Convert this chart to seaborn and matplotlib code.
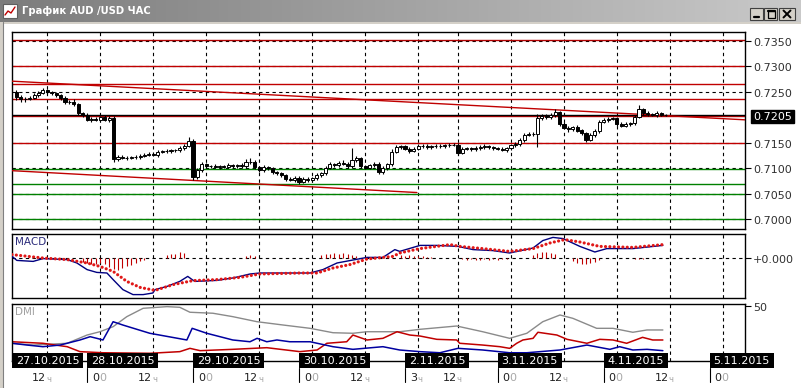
import numpy as np
import matplotlib
matplotlib.use("Agg")
import matplotlib.pyplot as plt
import matplotlib.transforms as mtransforms
from matplotlib.patches import Rectangle
from matplotlib.colors import LinearSegmentedColormap
import seaborn as sns

sns.set_style("white")
plt.rcParams['font.family'] = ['DejaVu Sans']

# ---------------- data (hourly AUD/USD) ----------------
first_open = 0.7250
closes = [
    0.7240, 0.7235, 0.7236, 0.7238, 0.7244, 0.7248, 0.7253, 0.7249, 0.7247, 0.7243,
    0.7237, 0.7230, 0.7231, 0.7226, 0.7208, 0.7204, 0.7195, 0.7197, 0.7195, 0.7200,
    0.7195, 0.7199, 0.7118, 0.7122, 0.7120, 0.7120, 0.7121, 0.7122, 0.7124, 0.7126,
    0.7128, 0.7126, 0.7132, 0.7133, 0.7134, 0.7135, 0.7135, 0.7139, 0.7144, 0.7154,
    0.7083, 0.7096, 0.7108, 0.7104, 0.7104, 0.7103, 0.7104, 0.7103, 0.7106, 0.7104,
    0.7106, 0.7104, 0.7112, 0.7113, 0.7102, 0.7096, 0.7102, 0.7100, 0.7092, 0.7090,
    0.7086, 0.7079, 0.7077, 0.7081, 0.7073, 0.7079, 0.7076, 0.7080, 0.7086, 0.7090,
    0.7101, 0.7108, 0.7106, 0.7110, 0.7109, 0.7104, 0.7116, 0.7119, 0.7104, 0.7101,
    0.7106, 0.7109, 0.7092, 0.7100, 0.7108, 0.7132, 0.7141, 0.7143, 0.7138, 0.7134,
    0.7138, 0.7144, 0.7144, 0.7141, 0.7143, 0.7143, 0.7144, 0.7145, 0.7146, 0.7146,
    0.7130, 0.7138, 0.7139, 0.7137, 0.7139, 0.7142, 0.7143, 0.7141, 0.7139, 0.7138,
    0.7136, 0.7139, 0.7145, 0.7148, 0.7155, 0.7166, 0.7167, 0.7168, 0.7198, 0.7203,
    0.7200, 0.7204, 0.7210, 0.7186, 0.7179, 0.7176, 0.7180, 0.7174, 0.7169, 0.7156,
    0.7166, 0.7173, 0.7191, 0.7195, 0.7197, 0.7198, 0.7186, 0.7183, 0.7187, 0.7188,
    0.7201, 0.7216, 0.7209, 0.7206, 0.7205, 0.7208, 0.7205, 0.7205,
]
# wick lengths in pips above / below the candle body
wick_up = [
    4, 3, 3, 4, 3, 4, 5, 3, 3, 3, 3, 4, 3, 4, 3, 3, 4, 3, 4, 3,
    4, 3, 3, 4, 3, 3, 3, 4, 3, 3, 3, 4, 3, 3, 4, 3, 3, 4, 3, 7,
    3, 4, 4, 3, 3, 4, 3, 3, 4, 3, 3, 4, 5, 6, 3, 3, 4, 3, 3, 3,
    3, 3, 4, 3, 3, 4, 3, 3, 4, 3, 4, 5, 3, 4, 6, 4, 24, 4, 3, 3,
    3, 4, 3, 4, 3, 5, 4, 3, 3, 4, 4, 3, 4, 3, 3, 4, 3, 3, 4, 3,
    3, 4, 3, 3, 4, 3, 4, 3, 3, 3, 4, 3, 3, 4, 4, 3, 4, 3, 8, 4,
    3, 4, 6, 3, 4, 3, 3, 4, 3, 3, 4, 3, 4, 3, 4, 3, 3, 4, 3, 3,
    4, 8, 3, 4, 3, 4, 3, 2,
]
wick_dn = [
    6, 4, 4, 3, 3, 4, 3, 3, 4, 3, 4, 3, 4, 3, 3, 4, 3, 4, 3, 3,
    3, 4, 6, 4, 3, 4, 3, 3, 4, 3, 3, 3, 4, 3, 3, 4, 3, 3, 4, 3,
    6, 4, 3, 4, 3, 3, 4, 3, 3, 4, 3, 3, 4, 3, 3, 4, 3, 3, 4, 4,
    4, 4, 3, 4, 4, 3, 4, 3, 3, 4, 3, 3, 4, 3, 3, 4, 3, 3, 4, 3,
    3, 4, 3, 4, 3, 4, 3, 3, 3, 4, 3, 3, 4, 3, 4, 3, 3, 4, 3, 3,
    4, 3, 3, 4, 3, 3, 4, 3, 3, 3, 3, 4, 3, 3, 4, 3, 3, 4, 26, 3,
    4, 3, 3, 4, 3, 4, 3, 3, 4, 4, 3, 4, 3, 3, 4, 3, 4, 3, 3, 4,
    3, 3, 4, 3, 3, 4, 3, 2,
]

price_ticks = [0.7350, 0.7300, 0.7250, 0.7150, 0.7100, 0.7050, 0.7000]
top_level = 0.7352
red_levels = [0.7300, 0.7265, 0.7236, 0.7150, 0.7203]
green_levels = [0.7098, 0.7068, 0.7050, 0.7000]
current_price = 0.7205

trend_upper_x = [-1, 165]
trend_upper_y = [0.7271, 0.7195]
trend_lower_x = [-1, 90.7]
trend_lower_y = [0.7095, 0.7052]

grid_bars = [7, 19, 31, 43, 55, 67, 79, 91, 100, 112, 124, 136, 148, 160]
hour_main = ['12', '0', '12', '0', '12', '0', '12', '3', '12', '0', '12', '0', '12', '0']
hour_suffix = ['ч', '0', 'ч', '0', 'ч', '0', 'ч', 'ч', 'ч', '0', 'ч', '0', 'ч', '0']
date_labels = ['27.10.2015', '28.10.2015', '29.10.2015', '30.10.2015',
               '2.11.2015', '3.11.2015', '4.11.2015', '5.11.2015']
date_start_bars = [-1, 19, 43, 67, 91, 112, 136, 160]

# MACD (values in pips, 1e-4)
macd_idx = [-1, 0.1, 3.8, 6.0, 11.5, 13.7, 16.0, 18.2, 20.5, 21.9, 24.1, 26.4, 28.7, 30.9, 31.4,
            34.1, 37.0, 38.8, 39.8, 40.4, 45.4, 49.0, 52.9, 55.1, 60.4, 66.5, 69.4, 72.6, 75.5,
            79.4, 83.0, 85.7, 86.8, 91.4, 95.2, 100.0, 103.4, 107.9, 111.7, 117.0, 119.2, 121.5,
            123.8, 127.6, 131.0, 133.7, 139.6, 146.4]
macd_val = [0.85, -1.2, -1.7, -0.3, -0.8, -2.5, -5.8, -7.2, -7.5, -10.8, -15.8, -18.3, -18.3, -17.5,
            -15.8, -14.2, -11.7, -9.2, -10.8, -11.7, -11.2, -10, -8, -7.5, -7.5, -7.5, -5.8, -2.5,
            -1.3, 0.3, 0.3, 4.2, 3.3, 6.3, 6.3, 5.8, 4.2, 3.7, 2.5, 5, 8.7, 10.3, 9.7, 5.8, 3,
            4.7, 4.7, 6.3]
signal_idx = [-1, 6.0, 11.5, 16.0, 18.9, 21.9, 25.0, 28.0, 31.4, 35.5, 40.0, 45.4, 50.6, 55.1,
              64.2, 68.1, 71.7, 75.5, 79.4, 85.3, 86.8, 91.4, 98.2, 100.4, 105.6, 111.7, 117.0,
              120.8, 124.2, 127.6, 132.1, 139.6, 146.4]
signal_val = [1.7, 0, -0.8, -2.5, -4.2, -6.7, -11.7, -14.7, -16.2, -13.3, -11.3, -10.8, -9.7, -8,
              -7.5, -7.5, -5, -3.3, -0.5, 0.8, 2.5, 4.7, 6.7, 5.8, 4.7, 3.3, 4.7, 7.5, 9.2, 8,
              5.8, 5.3, 6.7]
hist_idx = [15, 16, 17, 18, 19, 20, 21, 22, 23, 24, 25, 26, 27, 28, 29,
            34, 35, 36, 37, 38, 52, 53, 54,
            69, 70, 71, 72, 73, 74, 75, 76, 77,
            87, 88, 89, 90, 91, 92, 93, 94,
            101, 102, 103, 104, 105, 106, 107, 108, 109, 110, 111,
            117, 118, 119, 120, 121, 122,
            126, 127, 128, 129, 130, 131, 132, 140, 141, 142]
hist_val = [-2, -2.5, -3, -3, -2.5, -3, -4.5, -5.5, -6, -5, -4, -3.5, -2.5, -1.5, -1,
            1.5, 2, 2, 3, 2.5, 1, 1.5, 1,
            1.5, 2, 2, 2.5, 2, 2.5, 2, 1.5, 1,
            1.5, 1, 1.5, 1, 1, 1, 0.5, 0.5,
            -0.5, -1, -0.5, -1, -1, -0.5, -1, -0.5, -1, -0.5, -0.5,
            1.5, 2.5, 3, 3, 2.5, 2,
            -1.5, -2.5, -3, -3, -2.5, -2, -1, -0.5, -0.5, -0.5]

# DMI
adx_idx = [-1, 3.8, 11.5, 16.0, 18.9, 21.9, 25.0, 28.7, 34.1, 37.0, 39.3, 44.5, 49.0, 54.5, 60.4,
           66.5, 71.7, 76.2, 79.4, 86.8, 91.4, 99.7, 105.6, 111.7, 115.6, 119.2, 123.1, 126.0,
           131.4, 135.1, 139.6, 142.8, 146.4]
adx_val = [16.1, 14.5, 16.1, 23.6, 26.6, 31.2, 40.3, 47.9, 49.4, 48.8, 44.3, 43.4, 40.3, 35.7, 32.7,
           29.7, 25.7, 25.2, 26.6, 26.6, 28.8, 31.8, 26.6, 20.6, 25.2, 35.7, 41.8, 38.8, 29.7,
           29.7, 26.1, 28.2, 28.2]
pdi_idx = [-1, 2.4, 6.0, 9.9, 14.4, 16.7, 18.2, 19.6, 21.9, 24.1, 30.2, 38.6, 39.8, 43.1, 49.0,
           52.9, 54.5, 56.7, 59.0, 61.9, 66.5, 71.7, 76.2, 83.0, 86.8, 91.4, 95.9, 100.0, 105.6,
           111.7, 115.6, 123.1, 129.2, 134.4, 136.6, 139.6, 142.8, 146.4]
pdi_val = [16.1, 14.5, 13, 14.5, 19.1, 22.1, 20.6, 19.1, 35.7, 32.7, 25.2, 19.1, 29.7, 25.2, 19.1,
           17.5, 20.6, 17.5, 19.1, 17.5, 17.5, 13, 10.6, 13, 10, 8.5, 7.5, 11.5, 10, 7.5, 7.5,
           10, 14.5, 10.6, 13, 10, 10.6, 9.4]
mdi_idx = [-1, 6.0, 11.5, 14.4, 19.6, 30.2, 37.0, 39.3, 41.6, 49.0, 56.7, 64.2, 68.1, 70.3, 74.8,
           76.2, 79.4, 83.0, 86.2, 89.1, 91.4, 95.2, 99.7, 100.4, 105.6, 109.5, 111.7, 113.3,
           114.7, 117.0, 118.1, 122.4, 124.7, 129.2, 132.1, 135.1, 138.2, 141.8, 144.1, 146.4]
mdi_val = [17.5, 16.1, 13, 8.5, 7.5, 7, 8.5, 11.5, 9.4, 10.6, 12.1, 8.5, 10, 16.1, 17.5, 23.6,
           19.1, 20.6, 26.6, 23.6, 22.7, 19.7, 19.1, 16.1, 14.5, 13, 11.5, 16.1, 19.1, 20.6,
           26.1, 23.6, 19.7, 16.1, 19.7, 19.1, 16.1, 21.5, 19.1, 19.1]

# ---------------- layout helpers ----------------
W, H = 801, 388
XMIN, XMAX = -1, 165
fig = plt.figure(figsize=(W / 100, H / 100), dpi=100, facecolor='#d4d0c8')


def box(x0, y0, x1, y1):
    return [x0 / W, 1 - y1 / H, (x1 - x0) / W, (y1 - y0) / H]


def fy(py):
    return 1 - py / H


# client area and window chrome
bg = fig.add_axes([0, 0, 1, 1])
bg.set_xlim(0, W)
bg.set_ylim(H, 0)
bg.axis('off')
bg.add_patch(Rectangle((4, 24), W - 4, H - 24, fc='white', ec='none'))
bg.plot([3, 3], [22, H], color='#808080', lw=0.8)

ax_t = fig.add_axes(box(0, 0, W, 22))
grad = LinearSegmentedColormap.from_list('title', ['#7c7c7c', '#c9c9c9'])
ax_t.imshow(np.linspace(0, 1, 256).reshape(1, -1), cmap=grad, aspect='auto', extent=[0, W, 22, 0])
ax_t.set_xlim(0, W)
ax_t.set_ylim(22, 0)
ax_t.axis('off')
ax_t.add_patch(Rectangle((3, 4), 14, 14, fc='white', ec='#606060', lw=0.8))
ax_t.plot([5, 8, 11, 15], [15, 11, 13, 7], color='#c00000', lw=1)
ax_t.text(22, 11.5, 'График AUD /USD ЧАС', color='white', fontweight='bold', fontsize=7.2,
          va='center', ha='left')
for x0, w in [(750, 13), (764, 13), (779, 16)]:
    ax_t.add_patch(Rectangle((x0, 8), w, 12, fc='#d4d0c8', ec='#404040', lw=0.8))
ax_t.plot([754, 759], [17, 17], color='black', lw=1.6)
ax_t.add_patch(Rectangle((767.5, 10.5), 7, 7, fill=False, ec='black', lw=0.9))
ax_t.plot([767.5, 774.5], [11, 11], color='black', lw=1.6)
ax_t.plot([783.5, 790.5], [10.5, 17.5], color='black', lw=1.4)
ax_t.plot([783.5, 790.5], [17.5, 10.5], color='black', lw=1.4)

ax_main = fig.add_axes(box(12, 32, 745, 229))
ax_macd = fig.add_axes(box(12, 234, 745, 298))
ax_dmi = fig.add_axes(box(12, 304, 745, 361))

DASH = (0, (3, 3))
LABEL_X = (753 - 12) / (745 - 12)


def right_label(ax, val, text, **kw):
    tr = mtransforms.blended_transform_factory(ax.transAxes, ax.transData)
    tr = tr + mtransforms.ScaledTranslation(0, -2 / 100, fig.dpi_scale_trans)
    ax.text(LABEL_X, val, text, transform=tr, ha='left', va='center', fontsize=8,
            clip_on=False, **kw)


for ax in (ax_main, ax_macd, ax_dmi):
    ax.set_facecolor('white')
    ax.set_xlim(XMIN, XMAX)
    ax.set_xticks([])
    for s in ax.spines.values():
        s.set_visible(True)
        s.set_color('black')
        s.set_linewidth(1)
    for g in grid_bars:
        ax.axvline(g, color='black', ls=DASH, lw=0.8, zorder=1)
    ax.tick_params(axis='y', left=False, right=True, labelleft=False, labelright=False,
                   length=4, width=0.8, color='black', direction='out')

# ---------------- price panel ----------------
ax_main.set_ylim(0.69803, 0.73677)
ax_main.set_yticks(price_ticks)
for p in price_ticks:
    ax_main.axhline(p, color='black', ls=DASH, lw=0.8, zorder=1)
ax_main.axhline(top_level, color='#b00000', lw=1, zorder=2)
for p in red_levels:
    ax_main.axhline(p, color='#c00000', lw=1, zorder=2)
for p in green_levels:
    ax_main.axhline(p, color='#008000', lw=1, zorder=2)
ax_main.axhline(current_price, color='black', lw=1, zorder=3)
ax_main.plot(trend_upper_x, trend_upper_y, color='#c00000', lw=1, zorder=3)
ax_main.plot(trend_lower_x, trend_lower_y, color='#c00000', lw=1, zorder=3)

c = np.array(closes)
o = np.array([first_open] + closes[:-1])
bars = np.arange(len(c))
hi = np.maximum(o, c) + np.array(wick_up) * 1e-4
lo = np.minimum(o, c) - np.array(wick_dn) * 1e-4
ax_main.vlines(bars, lo, hi, color='black', lw=0.8, zorder=4)
body_h = np.maximum(np.abs(c - o), 0.00004)
ax_main.bar(bars, body_h, bottom=np.minimum(o, c), width=0.7,
            color=np.where(c >= o, 'white', 'black'), edgecolor='black', lw=0.7, zorder=5)

for p in price_ticks:
    right_label(ax_main, p, f'{p:.4f}', color='#303030')
tr_p = mtransforms.blended_transform_factory(ax_main.transAxes, ax_main.transData)
tr_p = tr_p + mtransforms.ScaledTranslation(0, -2 / 100, fig.dpi_scale_trans)
ax_main.text(LABEL_X, current_price, f'{current_price:.4f}', transform=tr_p, ha='left',
             va='center', fontsize=8, color='white', clip_on=False, zorder=10,
             bbox=dict(boxstyle='square,pad=0.15', fc='black', ec='black'))

# ---------------- MACD panel ----------------
ax_macd.set_ylim(-0.0020, 0.0012)
ax_macd.set_yticks([0.0])
ax_macd.axhline(0, color='black', ls=DASH, lw=0.8, zorder=1)
ax_macd.vlines(hist_idx, 0, np.array(hist_val) * 1e-4, color='#c00000', lw=0.8, zorder=2)
sns.lineplot(x=macd_idx, y=np.array(macd_val) * 1e-4, ax=ax_macd, color='#000080', lw=1,
             estimator=None, sort=False, zorder=3)
ax_macd.plot(signal_idx, np.array(signal_val) * 1e-4, color='#e01818', lw=2.3,
             ls=(0, (0.01, 1.35)), dash_capstyle='round', zorder=4)
ax_macd.set_xlim(XMIN, XMAX)
ax_macd.set_xlabel('')
ax_macd.set_ylabel('')
right_label(ax_macd, 0.0, '+0.000', color='#303030')
ax_macd.text(0.004, 0.88, 'MACD', transform=ax_macd.transAxes, fontsize=7.5,
             color='#2a2a7a', va='center', ha='left')

# ---------------- DMI panel ----------------
ax_dmi.set_ylim(0, 51.8)
ax_dmi.set_yticks([50])
sns.lineplot(x=adx_idx, y=adx_val, ax=ax_dmi, color='#8a8a8a', lw=1, estimator=None, sort=False)
sns.lineplot(x=mdi_idx, y=mdi_val, ax=ax_dmi, color='#c00000', lw=1.1, estimator=None, sort=False)
sns.lineplot(x=pdi_idx, y=pdi_val, ax=ax_dmi, color='#0000a0', lw=1.1, estimator=None, sort=False)
ax_dmi.set_xlim(XMIN, XMAX)
ax_dmi.set_xlabel('')
ax_dmi.set_ylabel('')
right_label(ax_dmi, 50, '50', color='#303030')
ax_dmi.text(0.004, 0.86, 'DMI', transform=ax_dmi.transAxes, fontsize=7.5,
            color='#a0a0a0', va='center', ha='left')

# ---------------- time axis ----------------
PX_PER_BAR = (745 - 12) / (XMAX - XMIN)
tr_t = mtransforms.blended_transform_factory(ax_dmi.transData, fig.transFigure)
for lab, start in zip(date_labels, date_start_bars):
    left = XMIN if start == XMIN else start - 3
    wbar = len(lab) * 7.1 / PX_PER_BAR
    ax_dmi.add_patch(Rectangle((left, fy(368)), wbar, 15 / H, transform=tr_t, fc='black',
                               ec='none', clip_on=False, zorder=10))
    ax_dmi.text(left + wbar / 2, fy(360.5), lab, transform=tr_t, color='white', fontsize=8,
                ha='center', va='center', clip_on=False, zorder=11)
    if start != XMIN:
        ax_dmi.plot([left, left], [fy(368), fy(382)], transform=tr_t, color='black',
                    lw=0.8, clip_on=False, zorder=10)

for g, m, s in zip(grid_bars, hour_main, hour_suffix):
    anchor = g - 0.3
    ax_dmi.text(anchor, fy(378), m, transform=tr_t, color='#202020', fontsize=8,
                ha='right', va='center', clip_on=False)
    ax_dmi.text(anchor, fy(378) if s == '0' else fy(379), s, transform=tr_t, color='#a8a8a8',
                fontsize=8 if s == '0' else 6, ha='left', va='center', clip_on=False)

fig.savefig('out.png', dpi=100, facecolor=fig.get_facecolor())
